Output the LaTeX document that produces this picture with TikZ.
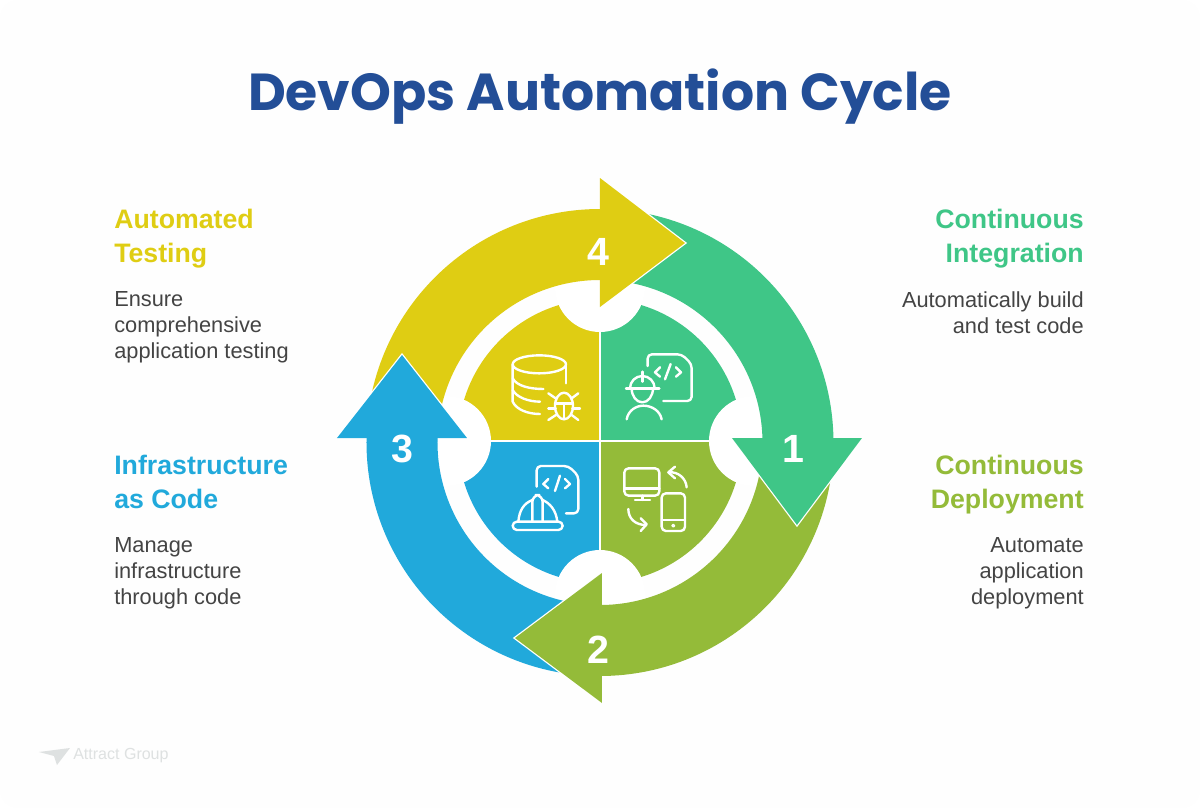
\documentclass[tikz,border=0pt]{standalone}
\usepackage{fontspec}
\setmainfont{Liberation Sans}
\newfontfamily\titlefont{Poppins}
\definecolor{greenc}{HTML}{3FC687}
\definecolor{olivec}{HTML}{94BB39}
\definecolor{bluec}{HTML}{21A9DB}
\definecolor{yellowc}{HTML}{DFCD13}
\definecolor{titlec}{HTML}{234E97}
\definecolor{bodyc}{HTML}{444444}
\definecolor{logoc}{HTML}{DEE1E1}
\definecolor{cardc}{HTML}{FEFEFE}
\tikzset{
  heading/.style={font=\fontsize{19pt}{24.2pt}\selectfont\bfseries, inner sep=0pt},
  bodytext/.style={font=\fontsize{15.5pt}{18.5pt}\selectfont, text=bodyc, inner sep=0pt},
  number/.style={font=\fontsize{28pt}{28pt}\selectfont\bfseries, text=white, inner sep=0pt},
  head/.style={preaction={draw=white, line width=1.8pt}},
  icon/.style={draw=white, line width=1.7pt, line cap=round, line join=round},
}
\begin{document}
\begin{tikzpicture}[x=0.25mm, y=0.25mm]
    \useasboundingbox (-600,-367) rectangle (600,441);
    \fill[cardc, rounded corners=12pt] (-600,-367) rectangle (600,441);
    % inner disc
    \fill[greenc] (0,0) -- (0,142) arc[start angle=90, end angle=0, radius=142] -- cycle;
    \fill[olivec] (0,0) -- (142,0) arc[start angle=0, end angle=-90, radius=142] -- cycle;
    \fill[bluec] (0,0) -- (0,-142) arc[start angle=270, end angle=180, radius=142] -- cycle;
    \fill[yellowc] (0,0) -- (-142,0) arc[start angle=180, end angle=90, radius=142] -- cycle;
    \draw[white, line width=1pt] (0,-142) -- (0,142);
    \draw[white, line width=1pt] (-142,0) -- (142,0);
    \fill[white] (0,154) circle[radius=45];
    \fill[white] (154,0) circle[radius=45];
    \fill[white] (0,-154) circle[radius=45];
    \fill[white] (-154,0) circle[radius=45];
    % ring
    \begin{scope}[shift={(0,-1.5)}]
      \fill[greenc] (88:233.5) arc[start angle=88, end angle=0, radius=233.5] -- (0:162.5) arc[start angle=0, end angle=88, radius=162.5] -- cycle;
      \fill[olivec] (0:233.5) arc[start angle=0, end angle=-90, radius=233.5] -- (-90:162.5) arc[start angle=-90, end angle=0, radius=162.5] -- cycle;
      \fill[bluec] (270:233.5) arc[start angle=270, end angle=178, radius=233.5] -- (178:162.5) arc[start angle=178, end angle=270, radius=162.5] -- cycle;
      \fill[yellowc] (175:233.5) arc[start angle=175, end angle=90, radius=233.5] -- (90:162.5) arc[start angle=90, end angle=175, radius=162.5] -- cycle;
    \end{scope}
    % heads
    \fill[greenc, head] (132,3) -- (197,-84) -- (262,3);
    \fill[olivec, head] (2,-132) -- (-85,-197) -- (2,-262);
    \fill[bluec, head] (-133,3) -- (-198,86) -- (-263,3);
    \fill[yellowc, head] (0,134) -- (85,198) -- (0,263);
    \node[number] (one) at (193,-8) {1};
    \node[number] (two) at (-2,-209) {2};
    \node[number] (three) at (-198,-8) {3};
    \node[number] (four) at (-2,189) {4};
    % engineer and document
    \begin{scope}[shift={(10,101)}, xscale=0.3333, yscale=-0.3333]
      \draw[icon, rounded corners=3pt] (113,78) -- (113,43) -- (215,43) -- (245,72) -- (245,183) -- (160,183);
      \draw[icon] (150,82) -- (135,97) -- (150,110);
      \draw[icon] (182,72) -- (165,118);
      \draw[icon] (198,82) -- (213,97) -- (198,110);
      \draw[icon] (48,145) -- (148,145);
      \draw[icon] (60,145) arc[start angle=180, end angle=360, radius=37];
      \draw[icon] (97,95) -- (97,125);
      \draw[icon] (65,145) arc[start angle=180, end angle=0, x radius=32, y radius=42];
      \draw[icon] (50,238) .. controls (55,210) and (80,197) .. (100,197) .. controls (125,197) and (150,212) .. (155,238);
    \end{scope}
    % monitor and phone
    \begin{scope}[shift={(10,-14)}, xscale=0.3333, yscale=-0.3333]
      \draw[icon, rounded corners=3pt] (43,40) rectangle (148,122);
      \draw[icon] (43,100) -- (148,100);
      \draw[icon] (97,122) -- (97,135);
      \draw[icon] (75,135) -- (120,135);
      \draw[icon, rounded corners=3pt] (155,115) rectangle (225,228);
      \draw[icon] (155,195) -- (225,195);
      \draw[icon, line width=1pt] (190,212) circle[radius=4];
      \draw[icon] (230,97) .. controls (228,70) and (205,50) .. (178,52);
      \draw[icon] (195,35) -- (175,52) -- (195,70);
      \draw[icon] (55,162) .. controls (55,190) and (75,210) .. (108,210);
      \draw[icon] (92,190) -- (110,208) -- (92,228);
    \end{scope}
    % helmet and document
    \begin{scope}[shift={(-100,-14)}, xscale=0.3333, yscale=-0.3333]
      \draw[icon, rounded corners=3pt] (110,95) -- (110,33) -- (205,33) -- (235,62) -- (235,175) -- (198,175);
      \draw[icon] (145,72) -- (130,87) -- (145,100);
      \draw[icon] (180,62) -- (165,108);
      \draw[icon] (195,72) -- (210,87) -- (195,100);
      \draw[icon, rounded corners=3pt] (38,200) rectangle (188,225);
      \draw[icon] (55,200) .. controls (58,165) and (72,145) .. (97,135);
      \draw[icon] (128,135) .. controls (150,145) and (168,165) .. (172,200);
      \draw[icon, rounded corners=5pt] (97,200) -- (97,120) -- (128,120) -- (128,200);
    \end{scope}
    % database and bug
    \begin{scope}[shift={(-110,101)}, xscale=0.3333, yscale=-0.3333]
      \draw[icon] (148,73) circle[x radius=80, y radius=27];
      \draw[icon] (68,73) -- (68,185) .. controls (80,210) and (115,222) .. (150,222);
      \draw[icon] (228,73) -- (228,130);
      \draw[icon] (68,115) .. controls (80,138) and (120,147) .. (160,147);
      \draw[icon] (68,150) .. controls (80,172) and (115,185) .. (150,185);
      \draw[icon] (222,198) circle[x radius=27, y radius=40];
      \draw[icon] (197,190) -- (247,190);
      \draw[icon] (222,190) -- (222,238);
      \draw[icon] (175,160) -- (197,175);
      \draw[icon] (265,160) -- (245,175);
      \draw[icon] (175,205) -- (197,205);
      \draw[icon] (270,205) -- (247,205);
      \draw[icon] (175,240) -- (198,225);
      \draw[icon] (265,240) -- (245,225);
    \end{scope}
    % texts
    \node[font=\titlefont\fontsize{37pt}{37pt}\selectfont\bfseries, text=titlec, inner sep=0pt] (title) at (0,344) {DevOps Automation Cycle};
    \node[heading, text=yellowc, anchor=north west, align=left] (testing) at (-486,232) {Automated\\Testing};
    \node[bodytext, anchor=north west, align=left] (testingtext) at (-486,150) {Ensure\\comprehensive\\application testing};
    \node[heading, text=bluec, anchor=north west, align=left] (infra) at (-486,-14) {Infrastructure\\as Code};
    \node[bodytext, anchor=north west, align=left] (infratext) at (-486,-96) {Manage\\infrastructure\\through code};
    \node[heading, text=greenc, anchor=north east, align=right] (integration) at (484,232) {Continuous\\Integration};
    \node[bodytext, anchor=north east, align=right] (integrationtext) at (484,150) {Automatically build\\and test code};
    \node[heading, text=olivec, anchor=north east, align=right] (deployment) at (484,-14) {Continuous\\Deployment};
    \node[bodytext, anchor=north east, align=right] (deploymenttext) at (484,-96) {Automate\\application\\deployment};
    % logo
    \fill[logoc] (-561,-311) -- (-530,-307) -- (-543,-324) -- (-546,-315) -- cycle;
    \node[font=\fontsize{11.4pt}{12pt}\selectfont, text=logoc, inner sep=0pt, anchor=west] (logo) at (-527,-315) {Attract Group};
  \end{tikzpicture}
\end{document}
